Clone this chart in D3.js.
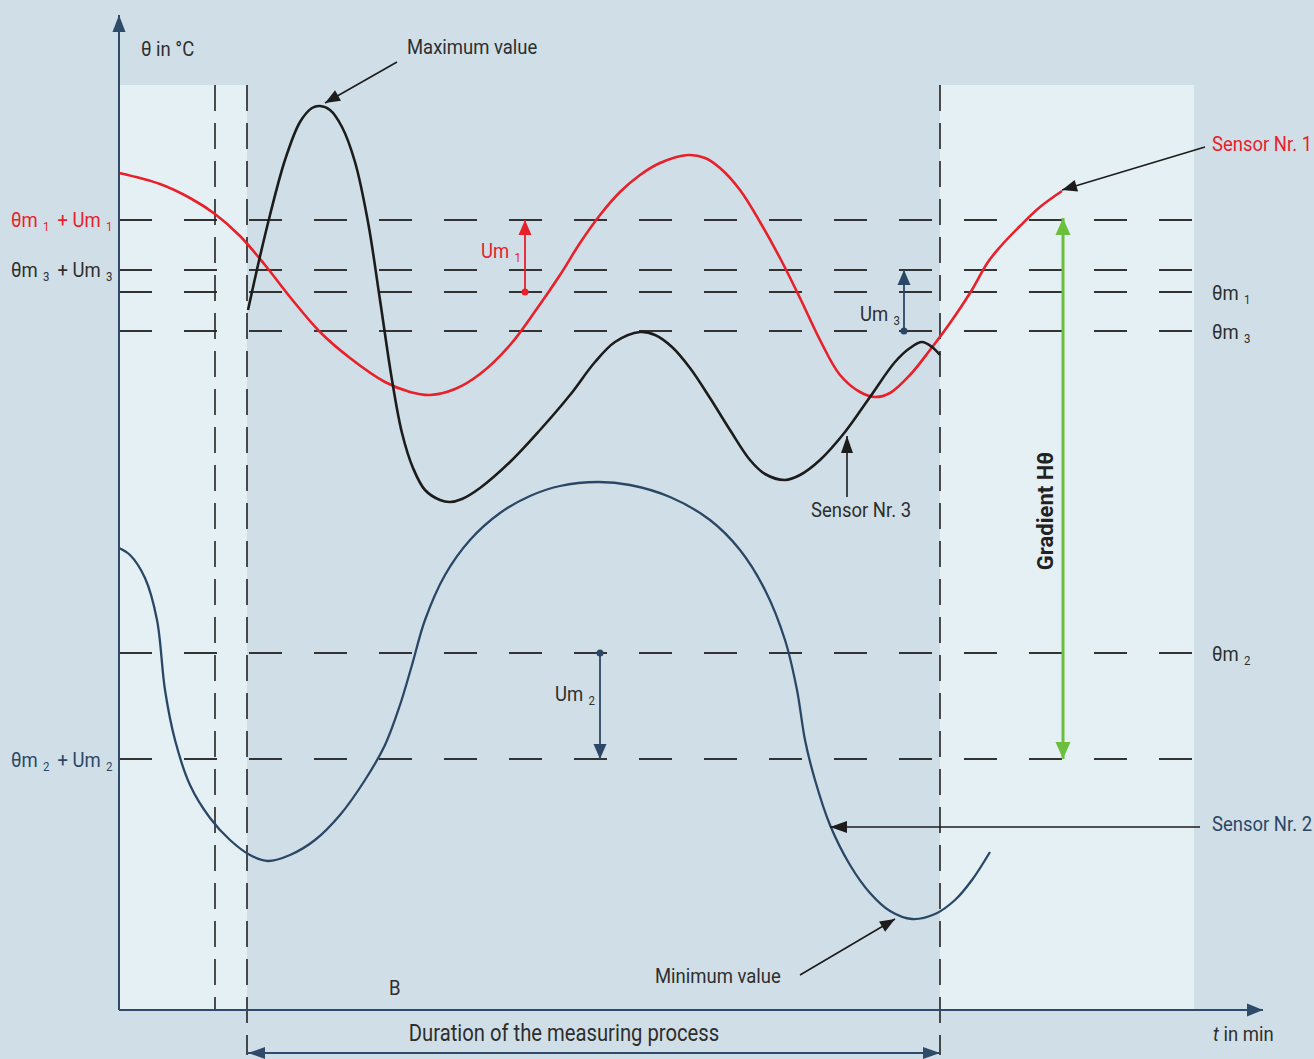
<!DOCTYPE html>
<html>
<head>
<meta charset="utf-8">
<script src="https://cdn.jsdelivr.net/npm/d3@7"></script>
<style>
  html, body { margin: 0; padding: 0; background: #d0dfe7; }
  svg { display: block; }
  text { font-family: Roboto, "DejaVu Sans Condensed", sans-serif; }
</style>
</head>
<body>
<div id="chart"></div>
<script>
// time axis (t) and temperature axis (theta), both in arbitrary chart units
const sensor1 = [[0,837],[41,826],[71,812],[96,796],[121,774],[146,745],[171,713],[201,678],[231,652],[266,628],[291,618],[311,615],[336,621],[361,636],[391,665],[417,700],[441,735],[461,767],[481,795],[501,818],[521,835],[541,847],[569,855],[586,852],[601,842],[621,820],[641,788],[661,752],[681,712],[701,670],[721,635],[741,618],[756,613],[771,617],[791,635],[811,660],[831,687],[851,717],[869,748],[881,763],[901,784],[921,803],[943,819]]
const sensor3 = [[129,700],[139,745],[151,795],[166,850],[181,888],[193,902],[201,904],[211,900],[223,883],[236,848],[249,788],[261,710],[273,630],[283,577],[294,542],[306,520],[321,510],[331,508],[343,511],[361,522],[391,548],[421,580],[451,615],[476,648],[496,668],[521,678],[536,675],[553,663],[571,642],[591,612],[611,580],[631,550],[646,536],[666,530],[681,535],[701,550],[726,578],[751,613],[776,648],[791,662],[803,668],[813,663],[821,655]]
const sensor2 = [[0,462],[11,455],[26,432],[38,390],[46,320],[56,270],[71,225],[91,192],[111,170],[131,155],[149,149],[171,155],[196,170],[221,195],[246,230],[266,265],[281,305],[293,345],[306,390],[326,435],[351,470],[381,497],[411,514],[441,524],[479,528],[511,525],[551,513],[591,490],[621,460],[646,420],[666,370],[678,320],[686,270],[696,230],[711,185],[731,145],[751,117],[771,99],[793,91],[816,96],[836,110],[853,130],[871,158]]

const levelNames = ["θm1+Um1", "θm3+Um3", "θm1", "θm3", "θm2", "θm2+Um2"]
const levelValues = [790, 740, 718, 679, 357, 251]
const markerTimes = [96, 128, 821]
const panelTop = 925
const panels = [[0, 128], [821, 1075]]
const levelEnd = 1075

const colors = { red: "#e8202a", black: "#1c1c1c", blue: "#2b4766", green: "#6cbf3c", text: "#2e2e2e", axis: "#2f4b6a" }

const width = 1314, height = 1059
const x = d3.scaleLinear().domain([0, 1143]).range([119, 1262])
const y = d3.scaleLinear().domain([0, 995]).range([1010, 15])
const squeeze = 0.88

const svg = d3.select("#chart").append("svg").attr("width", width).attr("height", height)
svg.append("rect").attr("width", width).attr("height", height).attr("fill", "#d0dfe7")

// light side panels
svg.selectAll("rect.panel").data(panels).enter().append("rect")
  .attr("class", "panel")
  .attr("x", d => x(d[0])).attr("y", y(panelTop))
  .attr("width", d => x(d[1]) - x(d[0])).attr("height", y(0) - y(panelTop))
  .attr("fill", "#e5f0f5")

// level lines
svg.selectAll("line.level").data(levelValues).enter().append("line")
  .attr("x1", x(0)).attr("x2", x(levelEnd))
  .attr("y1", d => y(d)).attr("y2", d => y(d))
  .attr("stroke", "#333").attr("stroke-width", 2).attr("stroke-dasharray", "33,32")

// vertical markers
svg.selectAll("line.marker").data(markerTimes).enter().append("line")
  .attr("x1", d => x(d)).attr("x2", d => x(d))
  .attr("y1", y(panelTop)).attr("y2", (d, i) => i === 0 ? y(0) : y(0) + 45)
  .attr("stroke", "#222").attr("stroke-width", 1.6).attr("stroke-dasharray", "26,12")

const line = d3.line().x(d => x(d[0])).y(d => y(d[1])).curve(d3.curveCatmullRom.alpha(0.5))
const curves = [[sensor2, colors.blue, 2.3], [sensor1, colors.red, 2.6], [sensor3, colors.black, 2.6]]
curves.forEach(([data, col, w]) => {
  svg.append("path").datum(data).attr("d", line)
    .attr("fill", "none").attr("stroke", col).attr("stroke-width", w)
})

function arrow(x1, y1, x2, y2, col, w, len, half, both) {
  svg.append("line").attr("x1", x1).attr("y1", y1).attr("x2", x2).attr("y2", y2)
    .attr("stroke", col).attr("stroke-width", w)
  const head = (tx, ty, fx, fy) => {
    const a = Math.atan2(ty - fy, tx - fx)
    const bx = tx - len * Math.cos(a), by = ty - len * Math.sin(a)
    const px = -Math.sin(a) * half, py = Math.cos(a) * half
    svg.append("path").attr("d", `M${tx},${ty}L${bx + px},${by + py}L${bx - px},${by - py}Z`).attr("fill", col)
  }
  head(x2, y2, x1, y1)
  if (both) head(x1, y1, x2, y2)
}

// axes
arrow(x(0), y(0), x(0), y(995), colors.axis, 2, 17, 6.5)
arrow(x(0), y(0), x(1144), y(0), colors.axis, 2, 16, 6.5)

// Um arrows
const umArrows = [[406, 718, 790, colors.red], [785, 679, 740, colors.blue], [481, 357, 251, colors.blue]]
umArrows.forEach(([t, from, to, col]) => {
  arrow(x(t), y(from), x(t), y(to), col, 1.8, 15, 6.5)
  svg.append("circle").attr("cx", x(t)).attr("cy", y(from)).attr("r", 3.5).attr("fill", col)
})

// gradient
arrow(x(944), y(251), x(944), y(792), colors.green, 3, 17, 7.5, true)
// duration
arrow(x(129), y(-43), x(821), y(-43), colors.axis, 2, 17, 6, true)

// annotation pointers
arrow(397, 62, 325, 103, colors.black, 1.6, 15, 6)
arrow(1205, 147, 1062, 190, colors.black, 1.6, 15, 6)
arrow(847, 497, 847, 436, colors.black, 1.6, 17, 6)
arrow(1200, 827, 830, 827, colors.black, 1.6, 17, 6)
arrow(800, 975, 895, 919, colors.black, 1.6, 15, 6)

function label(px, py, parts, col, anchor, size) {
  const t = svg.append("text")
    .attr("transform", `translate(${px},${py}) scale(${squeeze},1)`)
    .attr("fill", col).attr("font-size", size || 21).attr("text-anchor", anchor || "start")
  let shifted = false
  parts.forEach(p => {
    const sub = p.startsWith("_")
    const s = t.append("tspan").text(sub ? p.slice(1) : p)
    if (sub) { s.attr("font-size", 13).attr("dy", 4).attr("dx", 6); shifted = true }
    else if (shifted) { s.attr("dy", -4).attr("dx", 4); shifted = false }
  })
  return t
}

label(11, 227, ["θm", "_1", " + Um", "_1"], colors.red)
label(11, 277, ["θm", "_3", " + Um", "_3"], colors.text)
label(11, 767, ["θm", "_2", " + Um", "_2"], colors.blue)
label(1212, 300, ["θm", "_1"], colors.text)
label(1212, 339, ["θm", "_3"], colors.text)
label(1212, 661, ["θm", "_2"], colors.text)
label(481, 258, ["Um", "_1"], colors.red)
label(860, 321, ["Um", "_3"], colors.text)
label(555, 701, ["Um", "_2"], colors.text)

label(141, 56, ["θ in °C"], colors.text)
label(407, 54, ["Maximum value"], colors.text)
label(1212, 151, ["Sensor Nr. 1"], colors.red)
label(811, 517, ["Sensor Nr. 3"], colors.text)
label(1212, 831, ["Sensor Nr. 2"], colors.blue)
label(655, 983, ["Minimum value"], colors.text)
label(389, 995, ["B"], colors.text)
label(564, 1041, ["Duration of the measuring process"], colors.text, "middle", 23)
const tl = svg.append("text").attr("transform", `translate(1213,1041) scale(${squeeze},1)`)
  .attr("font-size", 21).attr("fill", colors.text)
tl.append("tspan").attr("font-style", "italic").text("t")
tl.append("tspan").text(" in min")

svg.append("text").attr("transform", `translate(1053,511) rotate(-90)`)
  .attr("text-anchor", "middle").attr("font-size", 22).attr("font-weight", "bold")
  .attr("fill", "#222").text("Gradient Hθ")
</script>
</body>
</html>
